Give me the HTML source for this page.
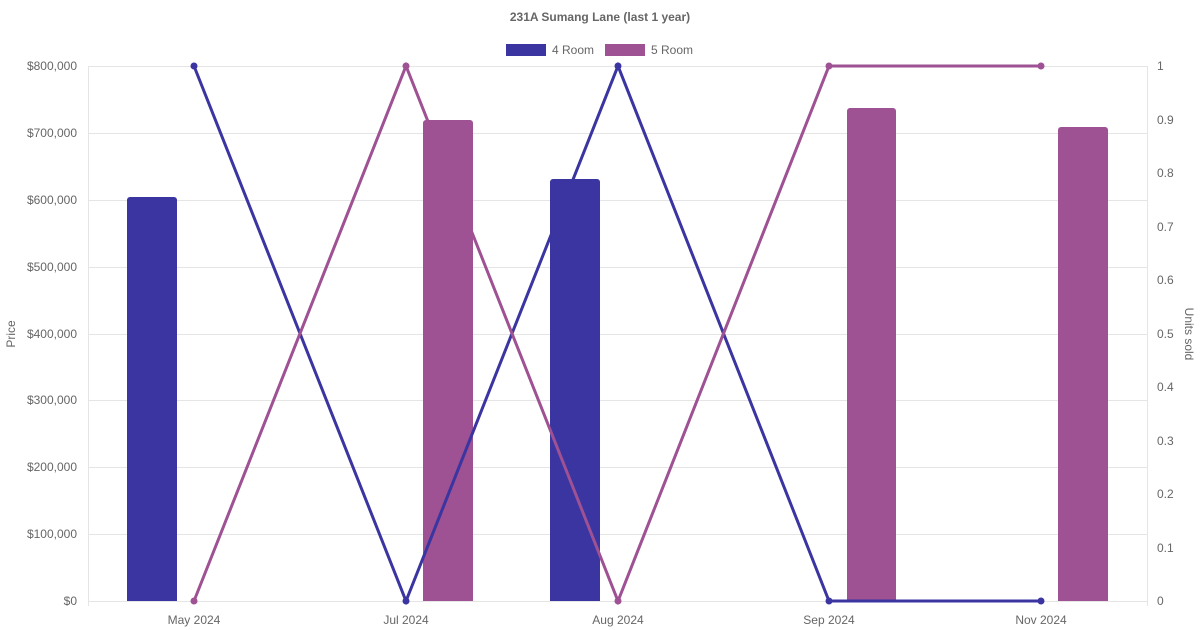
<!DOCTYPE html>
<html><head><meta charset="utf-8"><style>
html,body{margin:0;padding:0;background:#fff;}
svg{display:block;font-family:"Liberation Sans",Arial,sans-serif;}
</style></head><body>
<svg width="1200" height="630" viewBox="0 0 1200 630" xmlns="http://www.w3.org/2000/svg">
<text x="600" y="21" text-anchor="middle" font-size="12" font-weight="bold" fill="#666">231A Sumang Lane (last 1 year)</text>
<rect x="506" y="44" width="40" height="12" fill="#3a35a0"/>
<text x="552" y="54" font-size="12" fill="#666">4 Room</text>
<rect x="605" y="44" width="40" height="12" fill="#9e5193"/>
<text x="651" y="54" font-size="12" fill="#666">5 Room</text>
<g stroke="#e5e5e5" stroke-width="1">
<line x1="88" y1="66.5" x2="1147" y2="66.5"/>
<line x1="88" y1="133.5" x2="1147" y2="133.5"/>
<line x1="88" y1="200.5" x2="1147" y2="200.5"/>
<line x1="88" y1="267.5" x2="1147" y2="267.5"/>
<line x1="88" y1="334.5" x2="1147" y2="334.5"/>
<line x1="88" y1="400.5" x2="1147" y2="400.5"/>
<line x1="88" y1="467.5" x2="1147" y2="467.5"/>
<line x1="88" y1="534.5" x2="1147" y2="534.5"/>
<line x1="88" y1="601.5" x2="1147" y2="601.5"/>
<line x1="88.5" y1="66" x2="88.5" y2="606"/>
<line x1="1147.5" y1="66" x2="1147.5" y2="606"/>
</g>
<g font-size="12" fill="#666" text-anchor="end">
<text x="77" y="70">$800,000</text><text x="77" y="137">$700,000</text><text x="77" y="204">$600,000</text>
<text x="77" y="271">$500,000</text><text x="77" y="338">$400,000</text><text x="77" y="404">$300,000</text>
<text x="77" y="471">$200,000</text><text x="77" y="538">$100,000</text><text x="77" y="605">$0</text>
</g>
<g font-size="12" fill="#666">
<text x="1157" y="70">1</text><text x="1157" y="124">0.9</text><text x="1157" y="177">0.8</text>
<text x="1157" y="231">0.7</text><text x="1157" y="284">0.6</text><text x="1157" y="338">0.5</text>
<text x="1157" y="391">0.4</text><text x="1157" y="445">0.3</text><text x="1157" y="498">0.2</text>
<text x="1157" y="552">0.1</text><text x="1157" y="605">0</text>
</g>
<g font-size="12" fill="#666" text-anchor="middle">
<text x="194" y="624">May 2024</text><text x="406" y="624">Jul 2024</text><text x="618" y="624">Aug 2024</text>
<text x="829" y="624">Sep 2024</text><text x="1041" y="624">Nov 2024</text>
</g>
<text transform="translate(15,334) rotate(-90)" text-anchor="middle" font-size="12" fill="#666">Price</text>
<text transform="translate(1185,334) rotate(90)" text-anchor="middle" font-size="12" fill="#666">Units sold</text>
<path d="M127,601 V200 a3,3 0 0 1 3,-3 H174 a3,3 0 0 1 3,3 V601Z" fill="#3a35a0"/>
<path d="M550,601 V182 a3,3 0 0 1 3,-3 H597 a3,3 0 0 1 3,3 V601Z" fill="#3a35a0"/>
<path d="M423,601 V123 a3,3 0 0 1 3,-3 H470 a3,3 0 0 1 3,3 V601Z" fill="#9e5193"/>
<path d="M847,601 V111 a3,3 0 0 1 3,-3 H893 a3,3 0 0 1 3,3 V601Z" fill="#9e5193"/>
<path d="M1058,601 V130 a3,3 0 0 1 3,-3 H1105 a3,3 0 0 1 3,3 V601Z" fill="#9e5193"/>
<polyline points="194,66 406,601 618,66 829,601 1041,601" fill="none" stroke="#3a35a0" stroke-width="3"/>
<polyline points="194,601 406,66 618,601 829,66 1041,66" fill="none" stroke="#9e5193" stroke-width="3"/>
<g fill="#3a35a0"><circle cx="194" cy="66" r="3.5"/><circle cx="406" cy="601" r="3.5"/><circle cx="618" cy="66" r="3.5"/><circle cx="829" cy="601" r="3.5"/><circle cx="1041" cy="601" r="3.5"/></g>
<g fill="#9e5193"><circle cx="194" cy="601" r="3.5"/><circle cx="406" cy="66" r="3.5"/><circle cx="618" cy="601" r="3.5"/><circle cx="829" cy="66" r="3.5"/><circle cx="1041" cy="66" r="3.5"/></g>
</svg>
</body></html>
